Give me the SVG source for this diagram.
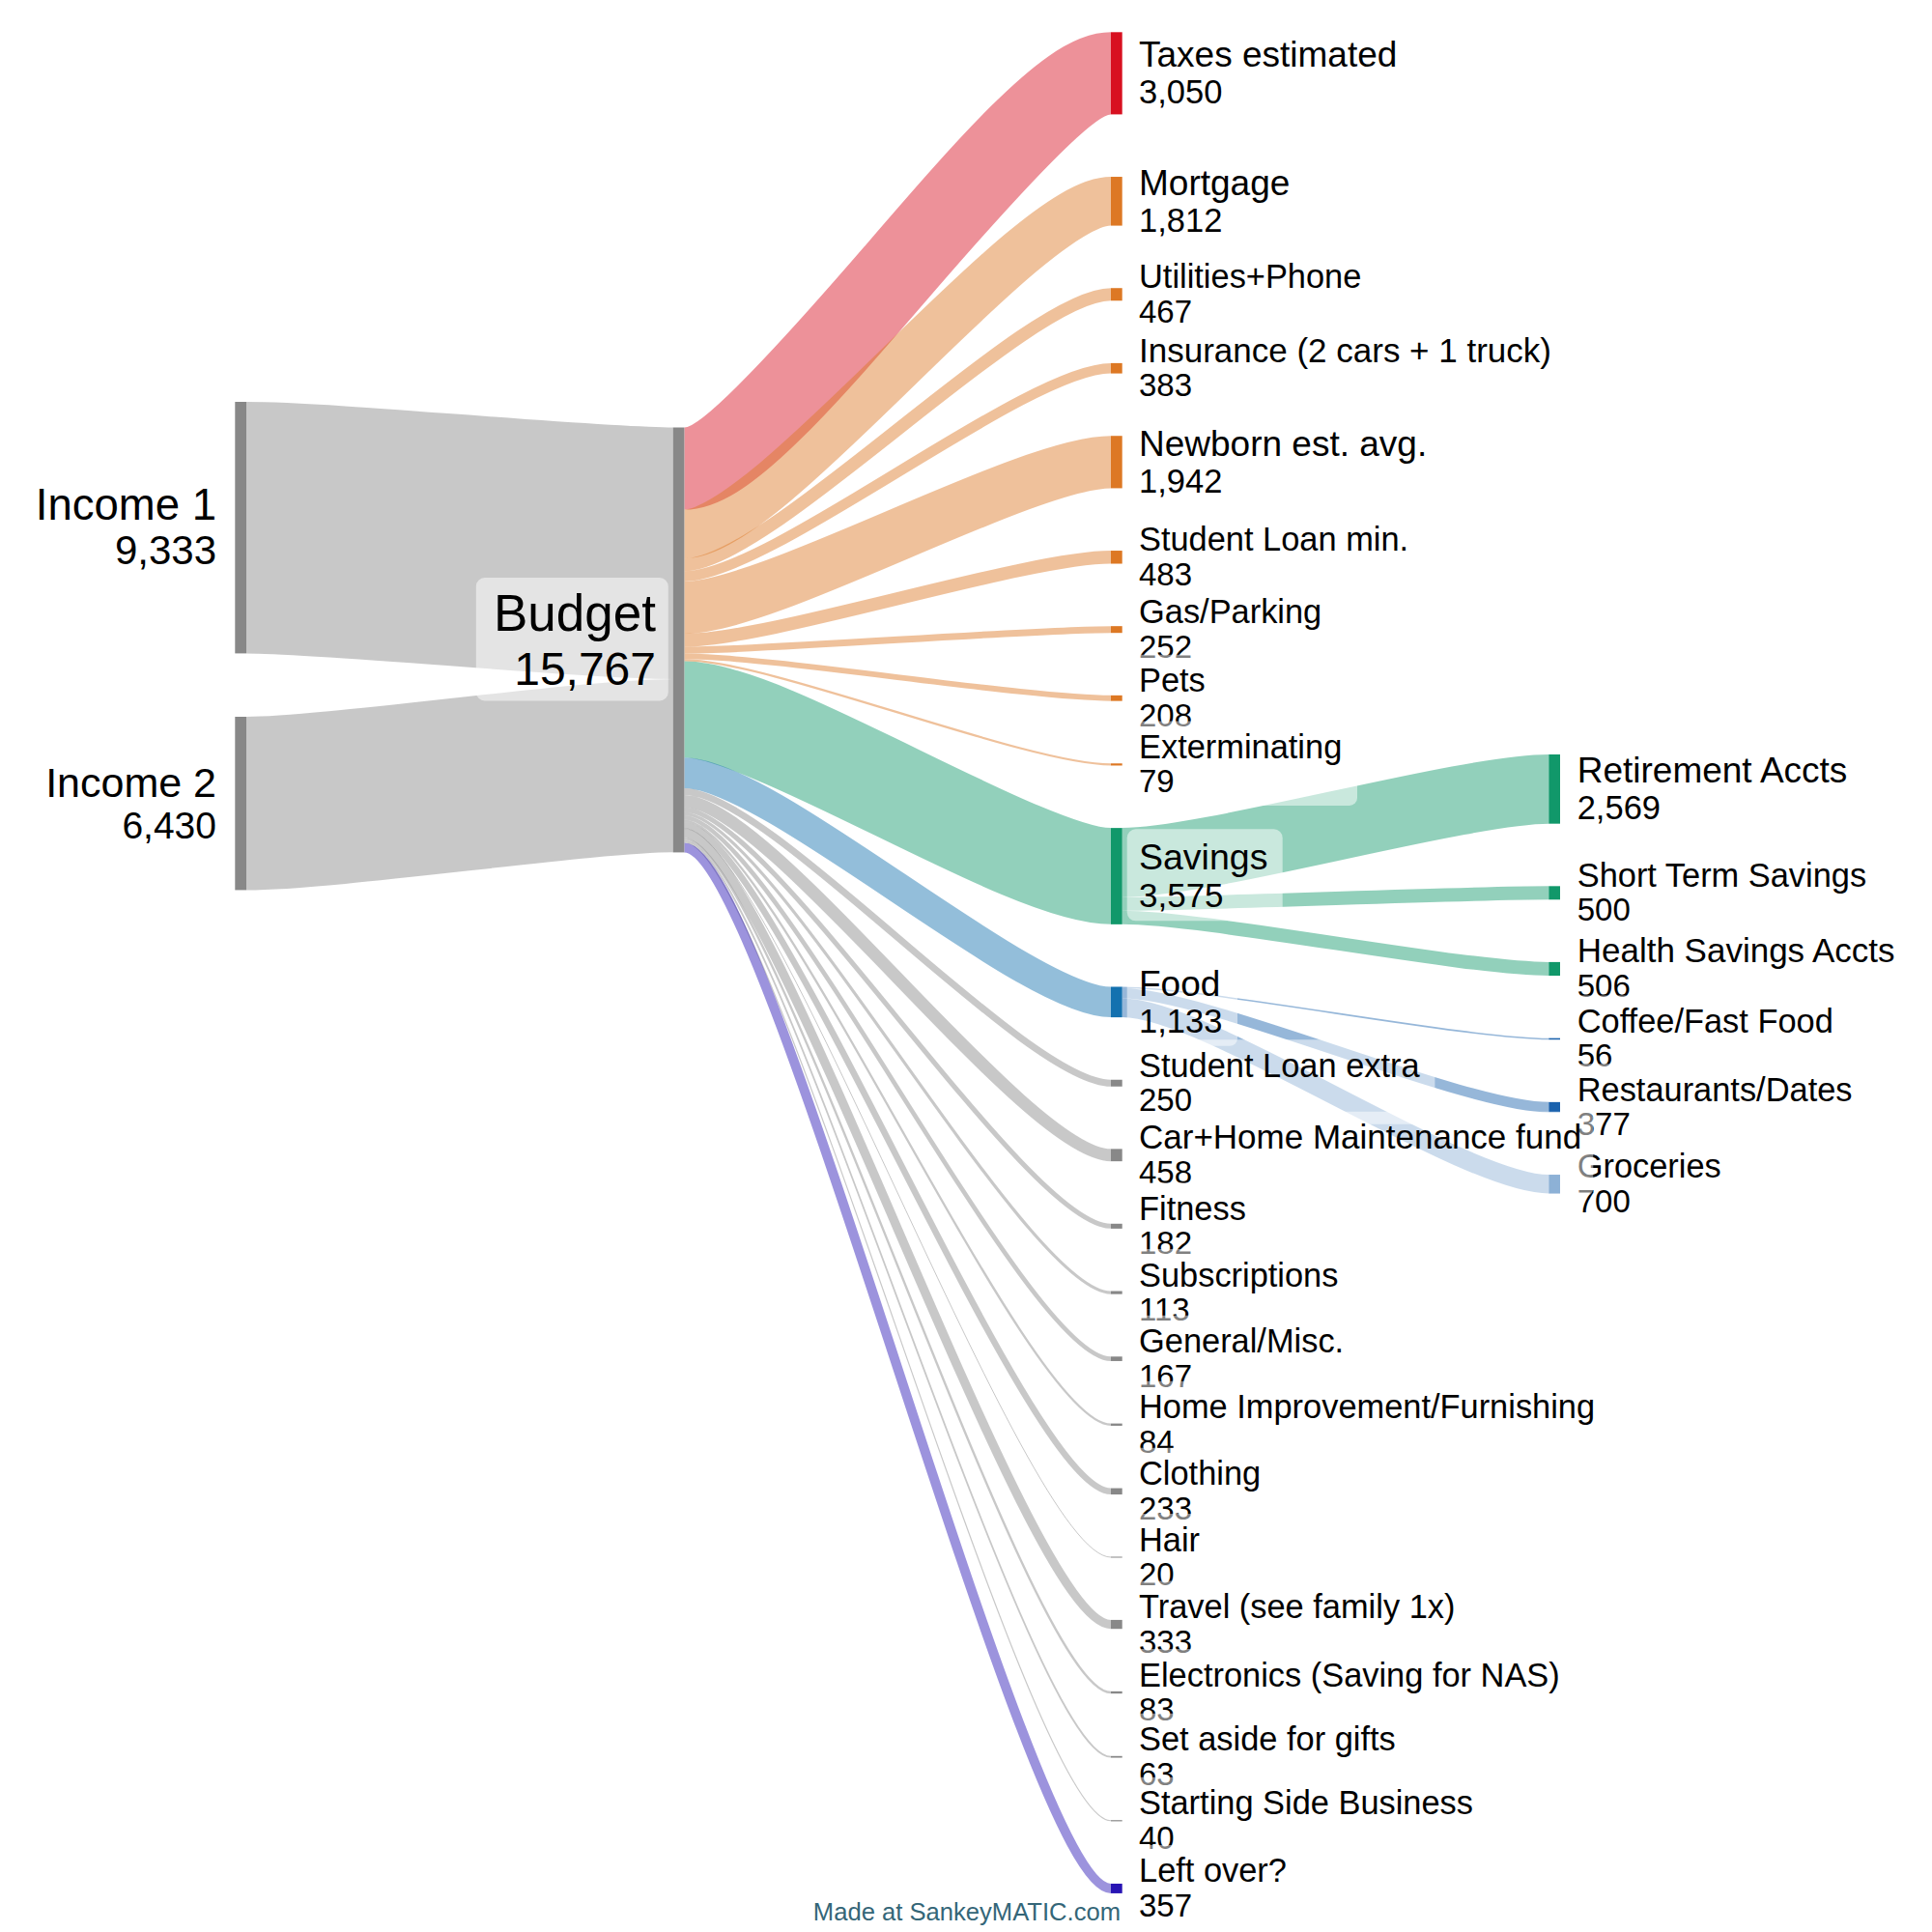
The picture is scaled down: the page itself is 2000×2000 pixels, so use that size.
<svg xmlns="http://www.w3.org/2000/svg" width="2000" height="2000" viewBox="0 0 2000 2000">
<style>
text{font-family:"Liberation Sans",Arial,Helvetica,sans-serif;fill:#000}
.f{fill:none;stroke-opacity:0.46}
.fx{stroke:#888888}.fr{stroke:#d81020}.fo{stroke:#dd7824}.fg{stroke:#11986a}.fb{stroke:#1471af}.fd{stroke:#1a62ad}.fp{stroke:#2814b4}
.nx{fill:#888888}.nr{fill:#d81020}.no{fill:#dd7824}.ng{fill:#11986a}.nb{fill:#1471af}.nd{fill:#1a62ad}.np{fill:#2814b4}
.lb{fill:#ffffff;fill-opacity:0.5}
.s{font-size:34.4px}.sv{font-size:33px}.l{font-size:37px}.lv{font-size:34.5px}
.e{text-anchor:end}
</style>
<rect width="2000" height="2000" fill="#ffffff"/>
<g id="connectors">
<path class="f fx" stroke-width="260.4" d="M255,546.2 C343.3,546.2 608.4,572.7 696.7,572.7"/>
<path class="f fx" stroke-width="179.4" d="M255,831.7 C343.3,831.7 608.4,792.6 696.7,792.6"/>
<path class="f fr" stroke-width="85.1" d="M708.4,485.05 C796.7,485.05 1061.7,75.85 1150,75.85"/>
<path class="f fo" stroke-width="50.55" d="M708.4,552.87 C796.7,552.87 1061.7,208.31 1150,208.31"/>
<path class="f fo" stroke-width="13.03" d="M708.4,584.66 C796.7,584.66 1061.7,304.75 1150,304.75"/>
<path class="f fo" stroke-width="10.69" d="M708.4,596.52 C796.7,596.52 1061.7,381.25 1150,381.25"/>
<path class="f fo" stroke-width="54.18" d="M708.4,628.96 C796.7,628.96 1061.7,478.32 1150,478.32"/>
<path class="f fo" stroke-width="13.48" d="M708.4,662.79 C796.7,662.79 1061.7,576.79 1150,576.79"/>
<path class="f fo" stroke-width="7.03" d="M708.4,673.04 C796.7,673.04 1061.7,651.69 1150,651.69"/>
<path class="f fo" stroke-width="5.8" d="M708.4,679.46 C796.7,679.46 1061.7,722.74 1150,722.74"/>
<path class="f fo" stroke-width="2.2" d="M708.4,683.46 C796.7,683.46 1061.7,791.38 1150,791.38"/>
<path class="f fg" stroke-width="99.74" d="M708.4,734.43 C796.7,734.43 1061.7,906.99 1150,906.99"/>
<path class="f fb" stroke-width="31.61" d="M708.4,800.1 C796.7,800.1 1061.7,1037.31 1150,1037.31"/>
<path class="f fx" stroke-width="6.98" d="M708.4,819.4 C796.7,819.4 1061.7,1121.24 1150,1121.24"/>
<path class="f fx" stroke-width="12.78" d="M708.4,829.28 C796.7,829.28 1061.7,1195.76 1150,1195.76"/>
<path class="f fx" stroke-width="5.08" d="M708.4,838.21 C796.7,838.21 1061.7,1269.33 1150,1269.33"/>
<path class="f fx" stroke-width="3.15" d="M708.4,842.32 C796.7,842.32 1061.7,1338.09 1150,1338.09"/>
<path class="f fx" stroke-width="4.66" d="M708.4,846.23 C796.7,846.23 1061.7,1406.63 1150,1406.63"/>
<path class="f fx" stroke-width="2.34" d="M708.4,849.73 C796.7,849.73 1061.7,1474.77 1150,1474.77"/>
<path class="f fx" stroke-width="6.5" d="M708.4,854.15 C796.7,854.15 1061.7,1543.83 1150,1543.83"/>
<path class="f fx" stroke-width="1" d="M708.4,857.68 C796.7,857.68 1061.7,1612 1150,1612"/>
<path class="f fx" stroke-width="9.29" d="M708.4,862.6 C796.7,862.6 1061.7,1681.57 1150,1681.57"/>
<path class="f fx" stroke-width="2.32" d="M708.4,868.41 C796.7,868.41 1061.7,1752.01 1150,1752.01"/>
<path class="f fx" stroke-width="1.76" d="M708.4,870.45 C796.7,870.45 1061.7,1818.69 1150,1818.69"/>
<path class="f fx" stroke-width="1.2" d="M708.4,871.89 C796.7,871.89 1061.7,1884.77 1150,1884.77"/>
<path class="f fp" stroke-width="9.96" d="M708.4,877.43 C796.7,877.43 1061.7,1954.95 1150,1954.95"/>
<path class="f fg" stroke-width="71.68" d="M1161.7,892.96 C1250,892.96 1515,816.84 1603.3,816.84"/>
<path class="f fg" stroke-width="13.95" d="M1161.7,935.78 C1250,935.78 1515,924.3 1603.3,924.3"/>
<path class="f fg" stroke-width="14.12" d="M1161.7,949.81 C1250,949.81 1515,1002.97 1603.3,1002.97"/>
<path class="f fd" stroke-width="1.56" d="M1161.7,1022.28 C1250,1022.28 1515,1075.45 1603.3,1075.45"/>
<path class="f fd" stroke-width="10.52" d="M1161.7,1028.32 C1250,1028.32 1515,1146.13 1603.3,1146.13"/>
<path class="f fd" stroke-width="19.53" d="M1161.7,1043.35 C1250,1043.35 1515,1225.8 1603.3,1225.8"/>
</g>
<g id="n-income1"><rect class="nx" x="243.3" y="416" width="11.7" height="260.4"/><text class="e" x="224" y="538.3" font-size="45.5">Income 1</text><text class="e" x="224" y="584.3" font-size="42">9,333</text></g>
<g id="n-budget"><rect class="nx" x="696.7" y="442.5" width="11.7" height="439.9"/><rect class="lb" x="492.8" y="598" width="199" height="127.5" rx="9"/><text class="e" x="679" y="652.5" font-size="53">Budget</text><text class="e" x="679" y="708.7" font-size="48">15,767</text></g>
<g id="n-income2"><rect class="nx" x="243.3" y="742" width="11.7" height="179.4"/><text class="e" x="224" y="825" font-size="43">Income 2</text><text class="e" x="224" y="868.3" font-size="39">6,430</text></g>
<g id="n-taxes"><rect class="nr" x="1150" y="33.3" width="11.7" height="85.1"/><rect class="lb" x="1166.7" y="28.85" width="299.4" height="92.5" rx="8"/><text class="l" x="1179" y="69.35">Taxes estimated</text><text class="lv" x="1179" y="107.35">3,050</text></g>
<g id="n-mortgage"><rect class="no" x="1150" y="183.04" width="11.7" height="50.55"/><rect class="lb" x="1166.7" y="161.31" width="184.3" height="92.5" rx="8"/><text class="l" x="1179" y="201.81">Mortgage</text><text class="lv" x="1179" y="239.81">1,812</text></g>
<g id="n-utilities"><rect class="no" x="1150" y="298.23" width="11.7" height="13.03"/><rect class="lb" x="1166.7" y="259.75" width="258.4" height="87.5" rx="8"/><text class="s" x="1179" y="298.25">Utilities+Phone</text><text class="sv" x="1179" y="333.75">467</text></g>
<g id="n-insurance"><rect class="no" x="1150" y="375.9" width="11.7" height="10.69"/><rect class="lb" x="1166.7" y="336.25" width="455" height="87.5" rx="8"/><text x="1179" y="374.75" font-size="35">Insurance (2 cars + 1 truck)</text><text class="sv" x="1179" y="410.25">383</text></g>
<g id="n-newborn"><rect class="no" x="1150" y="451.23" width="11.7" height="54.18"/><rect class="lb" x="1166.7" y="431.32" width="326.2" height="92.5" rx="8"/><text class="l" x="1179" y="471.82">Newborn est. avg.</text><text class="lv" x="1179" y="509.82">1,942</text></g>
<g id="n-slmin"><rect class="no" x="1150" y="570.05" width="11.7" height="13.48"/><rect class="lb" x="1166.7" y="531.79" width="307.2" height="87.5" rx="8"/><text class="s" x="1179" y="570.29">Student Loan min.</text><text class="sv" x="1179" y="605.79">483</text></g>
<g id="n-gas"><rect class="no" x="1150" y="648.17" width="11.7" height="7.03"/><rect class="lb" x="1166.7" y="606.69" width="217.3" height="87.5" rx="8"/><text class="s" x="1179" y="645.19">Gas/Parking</text><text class="sv" x="1179" y="680.69">252</text></g>
<g id="n-pets"><rect class="no" x="1150" y="719.84" width="11.7" height="5.8"/><rect class="lb" x="1166.7" y="677.74" width="97" height="87.5" rx="8"/><text class="s" x="1179" y="716.24">Pets</text><text class="sv" x="1179" y="751.74">208</text></g>
<g id="n-exterminating"><rect class="no" x="1150" y="790.28" width="11.7" height="2.2"/><rect class="lb" x="1166.7" y="746.38" width="238.3" height="87.5" rx="8"/><text class="s" x="1179" y="784.88">Exterminating</text><text class="sv" x="1179" y="820.38">79</text></g>
<g id="n-savings"><rect class="ng" x="1150" y="857.12" width="11.7" height="99.74"/><rect class="lb" x="1166.7" y="858.3" width="161" height="95" rx="9"/><text x="1179" y="900" font-size="37.5">Savings</text><text x="1179" y="938.5" font-size="35">3,575</text></g>
<g id="n-retirement"><rect class="ng" x="1603.3" y="781" width="11.7" height="71.68"/><rect class="lb" x="1620.4" y="769.84" width="309.7" height="92.5" rx="8"/><text class="l" x="1632.7" y="810.34">Retirement Accts</text><text class="lv" x="1632.7" y="848.34">2,569</text></g>
<g id="n-shortterm"><rect class="ng" x="1603.3" y="917.32" width="11.7" height="13.95"/><rect class="lb" x="1620.4" y="879.3" width="332" height="87.5" rx="8"/><text class="s" x="1632.7" y="917.8">Short Term Savings</text><text class="sv" x="1632.7" y="953.3">500</text></g>
<g id="n-health"><rect class="ng" x="1603.3" y="995.91" width="11.7" height="14.12"/><rect class="lb" x="1620.4" y="957.97" width="353" height="87.5" rx="8"/><text x="1632.7" y="996.47" font-size="35">Health Savings Accts</text><text class="sv" x="1632.7" y="1031.97">506</text></g>
<g id="n-food"><rect class="nb" x="1150" y="1021.5" width="11.7" height="31.61"/><rect class="lb" x="1166.7" y="990.31" width="114.3" height="92.5" rx="8"/><text class="l" x="1179" y="1030.81">Food</text><text class="lv" x="1179" y="1068.81">1,133</text></g>
<g id="n-coffee"><rect class="nd" x="1603.3" y="1074.67" width="11.7" height="1.56"/><rect class="lb" x="1620.4" y="1030.45" width="293.8" height="87.5" rx="8"/><text class="s" x="1632.7" y="1068.95">Coffee/Fast Food</text><text class="sv" x="1632.7" y="1104.45">56</text></g>
<g id="n-restaurants"><rect class="nd" x="1603.3" y="1140.87" width="11.7" height="10.52"/><rect class="lb" x="1620.4" y="1101.13" width="312.9" height="87.5" rx="8"/><text class="s" x="1632.7" y="1139.63">Restaurants/Dates</text><text class="sv" x="1632.7" y="1175.13">377</text></g>
<g id="n-groceries"><rect class="nd" x="1603.3" y="1216.03" width="11.7" height="19.53"/><rect class="lb" x="1620.4" y="1180.8" width="177.1" height="87.5" rx="8"/><text class="s" x="1632.7" y="1219.3">Groceries</text><text class="sv" x="1632.7" y="1254.8">700</text></g>
<g id="n-slextra"><rect class="nx" x="1150" y="1117.75" width="11.7" height="6.98"/><rect class="lb" x="1166.7" y="1076.24" width="318.7" height="87.5" rx="8"/><text class="s" x="1179" y="1114.74">Student Loan extra</text><text class="sv" x="1179" y="1150.24">250</text></g>
<g id="n-carhome"><rect class="nx" x="1150" y="1189.37" width="11.7" height="12.78"/><rect class="lb" x="1166.7" y="1150.76" width="482.6" height="87.5" rx="8"/><text x="1179" y="1189.26" font-size="35">Car+Home Maintenance fund</text><text class="sv" x="1179" y="1224.76">458</text></g>
<g id="n-fitness"><rect class="nx" x="1150" y="1266.79" width="11.7" height="5.08"/><rect class="lb" x="1166.7" y="1224.33" width="138.9" height="87.5" rx="8"/><text class="s" x="1179" y="1262.83">Fitness</text><text class="sv" x="1179" y="1298.33">182</text></g>
<g id="n-subscriptions"><rect class="nx" x="1150" y="1336.51" width="11.7" height="3.15"/><rect class="lb" x="1166.7" y="1293.09" width="234.5" height="87.5" rx="8"/><text class="s" x="1179" y="1331.59">Subscriptions</text><text class="sv" x="1179" y="1367.09">113</text></g>
<g id="n-general"><rect class="nx" x="1150" y="1404.3" width="11.7" height="4.66"/><rect class="lb" x="1166.7" y="1361.63" width="240.2" height="87.5" rx="8"/><text class="s" x="1179" y="1400.13">General/Misc.</text><text class="sv" x="1179" y="1435.63">167</text></g>
<g id="n-homeimp"><rect class="nx" x="1150" y="1473.6" width="11.7" height="2.34"/><rect class="lb" x="1166.7" y="1429.77" width="490" height="87.5" rx="8"/><text class="s" x="1179" y="1468.27" font-size="33.7">Home Improvement/Furnishing</text><text class="sv" x="1179" y="1503.77">84</text></g>
<g id="n-clothing"><rect class="nx" x="1150" y="1540.58" width="11.7" height="6.5"/><rect class="lb" x="1166.7" y="1498.83" width="154.2" height="87.5" rx="8"/><text class="s" x="1179" y="1537.33">Clothing</text><text class="sv" x="1179" y="1572.83">233</text></g>
<g id="n-hair"><rect class="nx" x="1150" y="1611.5" width="11.7" height="1"/><rect class="lb" x="1166.7" y="1567" width="91" height="87.5" rx="8"/><text class="s" x="1179" y="1605.5">Hair</text><text class="sv" x="1179" y="1641">20</text></g>
<g id="n-travel"><rect class="nx" x="1150" y="1676.92" width="11.7" height="9.29"/><rect class="lb" x="1166.7" y="1636.57" width="354" height="87.5" rx="8"/><text class="s" x="1179" y="1675.07" font-size="34">Travel (see family 1x)</text><text class="sv" x="1179" y="1710.57">333</text></g>
<g id="n-electronics"><rect class="nx" x="1150" y="1750.85" width="11.7" height="2.32"/><rect class="lb" x="1166.7" y="1707.01" width="463" height="87.5" rx="8"/><text class="s" x="1179" y="1745.51" font-size="34.1">Electronics (Saving for NAS)</text><text class="sv" x="1179" y="1781.01">83</text></g>
<g id="n-gifts"><rect class="nx" x="1150" y="1817.81" width="11.7" height="1.76"/><rect class="lb" x="1166.7" y="1773.69" width="293.8" height="87.5" rx="8"/><text class="s" x="1179" y="1812.19">Set aside for gifts</text><text class="sv" x="1179" y="1847.69">63</text></g>
<g id="n-sidebiz"><rect class="nx" x="1150" y="1884.21" width="11.7" height="1.2"/><rect class="lb" x="1166.7" y="1839.77" width="372" height="87.5" rx="8"/><text class="s" x="1179" y="1878.27" font-size="34">Starting Side Business</text><text class="sv" x="1179" y="1913.77">40</text></g>
<g id="n-leftover"><rect class="np" x="1150" y="1949.97" width="11.7" height="9.96"/><rect class="lb" x="1166.7" y="1909.95" width="181" height="87.5" rx="8"/><text class="s" x="1179" y="1948.45">Left over?</text><text class="sv" x="1179" y="1983.95">357</text></g>
<text class="e" x="1160" y="1988" font-size="25.6" style="fill:#346678">Made at SankeyMATIC.com</text>
</svg>
